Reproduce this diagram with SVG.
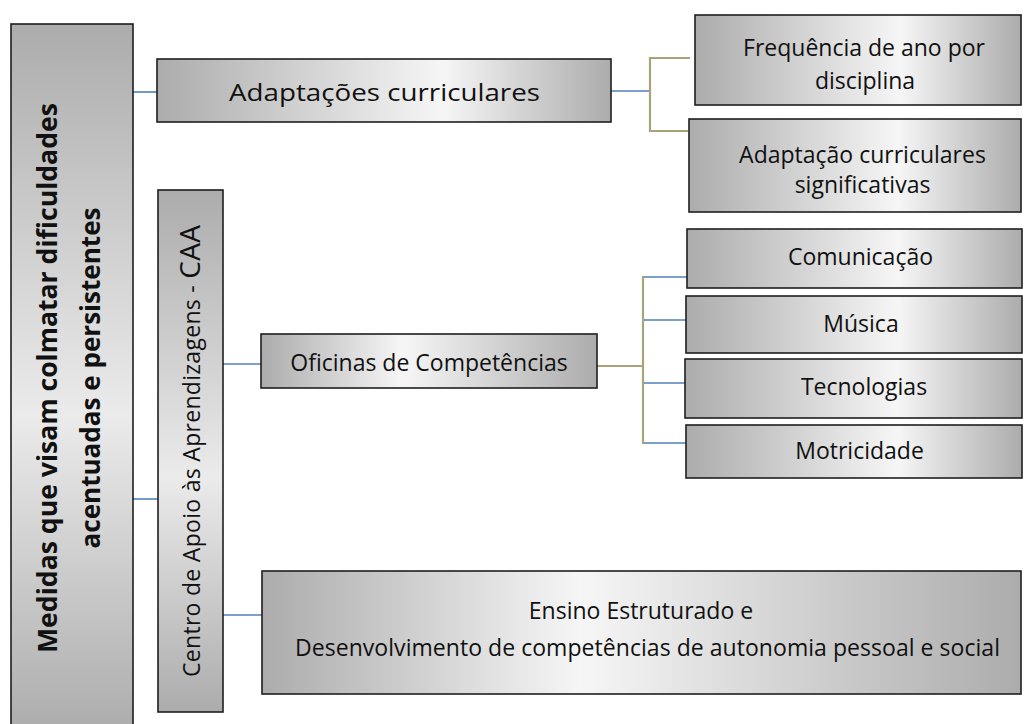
<svg xmlns="http://www.w3.org/2000/svg" width="1025" height="724" viewBox="0 0 1025 724">
<defs>
<linearGradient id="gR" x1="0" y1="0" x2="1" y2="0">
<stop offset="0" stop-color="#acacac"/><stop offset="0.63" stop-color="#f6f6f6"/><stop offset="1" stop-color="#acacac"/>
</linearGradient>
<linearGradient id="gL" x1="0" y1="0" x2="1" y2="0">
<stop offset="0" stop-color="#acacac"/><stop offset="0.42" stop-color="#f6f6f6"/><stop offset="1" stop-color="#acacac"/>
</linearGradient>
<linearGradient id="gV" x1="0" y1="0" x2="0" y2="1">
<stop offset="0" stop-color="#acacac"/><stop offset="0.55" stop-color="#ebebeb"/><stop offset="1" stop-color="#acacac"/>
</linearGradient>
</defs>
<style>
.box{stroke:#1e1e1e;stroke-width:1.6}
.t{font-family:"Open Sans","Liberation Sans",sans-serif;font-size:23px;fill:#111;text-anchor:middle}
.b{font-weight:bold;font-size:26.5px}
.blue{stroke:#4f81bd;stroke-width:1.6;fill:none}
.olive{stroke:#a8a37c;stroke-width:2.2;fill:none}
</style>
<g id="connectors">
<line class="blue" x1="133" y1="92" x2="157" y2="92"/>
<line class="blue" x1="611" y1="91" x2="650" y2="91"/>
<path class="olive" d="M690,58 H650 V131 H688"/>
<line class="blue" x1="133" y1="499" x2="158" y2="499"/>
<line class="blue" x1="223" y1="364" x2="261" y2="364"/>
<line class="blue" x1="223" y1="615" x2="262" y2="615"/>
<line class="olive" x1="597" y1="366" x2="643" y2="366"/>
<line class="olive" x1="643" y1="276" x2="643" y2="444"/>
<line class="blue" x1="644" y1="277" x2="687" y2="277"/>
<line class="blue" x1="644" y1="320" x2="686" y2="320"/>
<line class="blue" x1="644" y1="383" x2="685" y2="383"/>
<line class="blue" x1="644" y1="443" x2="686" y2="443"/>
</g>
<g id="medidas">
<rect class="box" x="11" y="24" width="122" height="710" fill="url(#gV)"/>
<text class="t b" transform="translate(57,378) rotate(-90)" textLength="550" lengthAdjust="spacingAndGlyphs">Medidas que visam colmatar dificuldades</text>
<text class="t b" transform="translate(100,378) rotate(-90)" textLength="341" lengthAdjust="spacingAndGlyphs">acentuadas e persistentes</text>
</g>
<g id="adaptacoes">
<rect class="box" x="157" y="59" width="454" height="63" fill="url(#gR)"/>
<text class="t" x="384.5" y="101" font-size="30.5" textLength="311" lengthAdjust="spacingAndGlyphs">Adaptações curriculares</text>
</g>
<g id="frequencia">
<rect class="box" x="695" y="15" width="326" height="90" fill="url(#gR)"/>
<text class="t" x="864" y="56">Frequência de ano por</text>
<text class="t" x="865" y="89">disciplina</text>
</g>
<g id="adaptacao-sig">
<rect class="box" x="689" y="119" width="332" height="93" fill="url(#gR)"/>
<text class="t" x="862.5" y="163">Adaptação curriculares</text>
<text class="t" x="862.5" y="193">significativas</text>
</g>
<g id="caa">
<rect class="box" x="158" y="190" width="65" height="522" fill="url(#gV)"/>
<text class="t" transform="translate(200,451) rotate(-90)" textLength="452">Centro de Apoio às Aprendizagens - <tspan font-size="28">CAA</tspan></text>
</g>
<g id="oficinas">
<rect class="box" x="261" y="334" width="336" height="54" fill="url(#gL)"/>
<text class="t" x="429" y="371">Oficinas de Competências</text>
</g>
<g id="comunicacao">
<rect class="box" x="687" y="229" width="335" height="59" fill="url(#gR)"/>
<text class="t" x="860.5" y="265">Comunicação</text>
</g>
<g id="musica">
<rect class="box" x="686" y="296" width="336" height="57" fill="url(#gR)"/>
<text class="t" x="861" y="332">Música</text>
</g>
<g id="tecnologias">
<rect class="box" x="685" y="359" width="337" height="59" fill="url(#gR)"/>
<text class="t" x="864" y="395">Tecnologias</text>
</g>
<g id="motricidade">
<rect class="box" x="686" y="425" width="336" height="53" fill="url(#gR)"/>
<text class="t" x="859.5" y="459">Motricidade</text>
</g>
<g id="ensino">
<rect class="box" x="262" y="571" width="759" height="123" fill="url(#gL)"/>
<text class="t" x="641" y="619">Ensino Estruturado e</text>
<text class="t" x="647.5" y="656" textLength="705">Desenvolvimento de competências de autonomia pessoal e social</text>
</g>
</svg>
